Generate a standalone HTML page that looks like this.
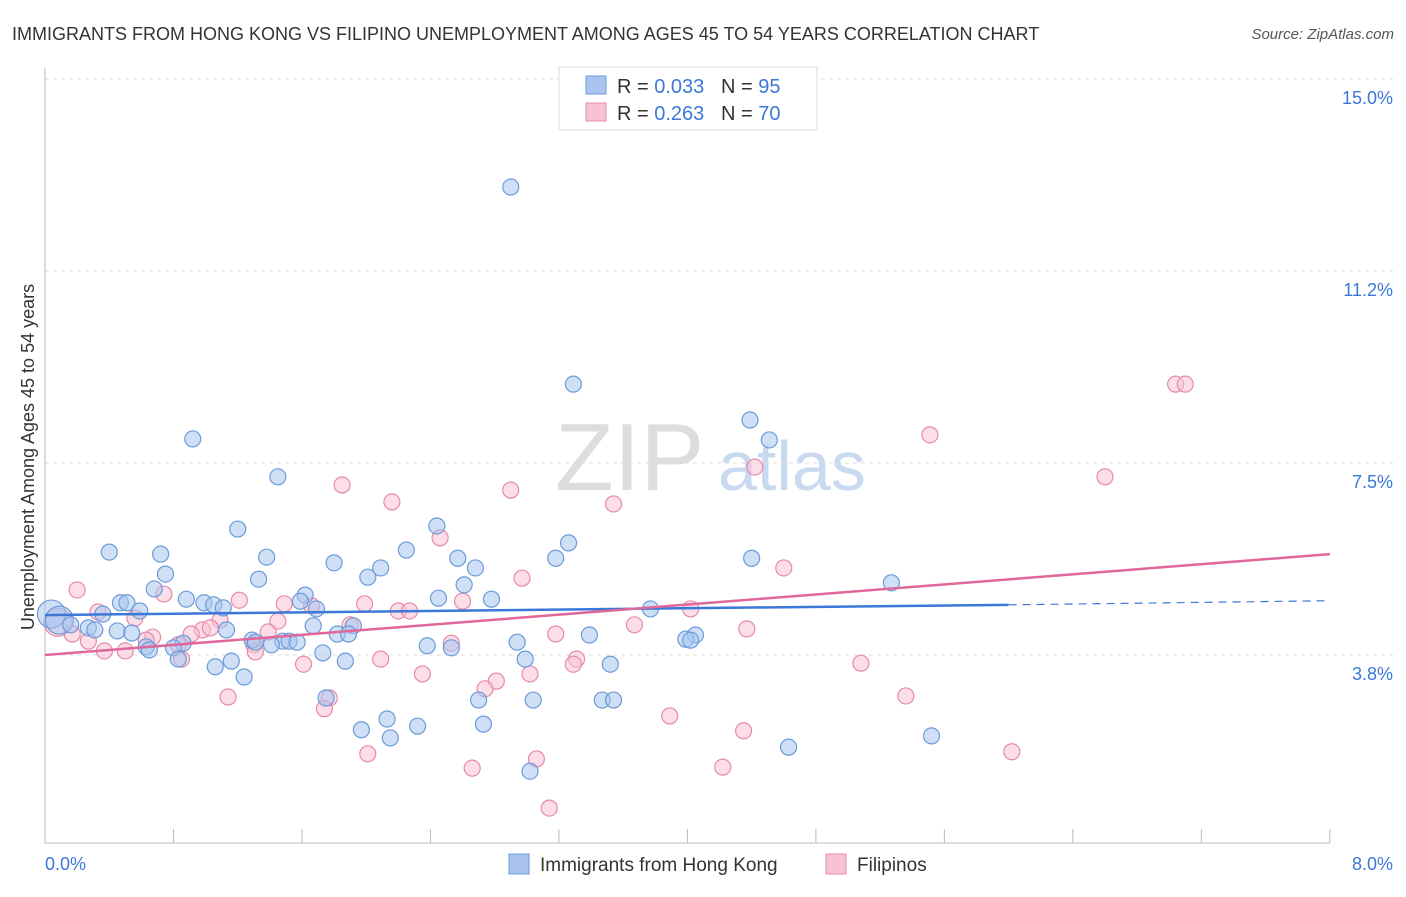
<!DOCTYPE html>
<html><head><meta charset="utf-8"><style>
body{margin:0;background:#fff;font-family:"Liberation Sans",sans-serif;}
svg text{font-family:"Liberation Sans",sans-serif;}
</style></head><body>
<svg id="chart" width="1406" height="892" xmlns="http://www.w3.org/2000/svg">
<text x="12" y="40" font-size="18" fill="#333">IMMIGRANTS FROM HONG KONG VS FILIPINO UNEMPLOYMENT AMONG AGES 45 TO 54 YEARS CORRELATION CHART</text>
<text x="1394" y="39" font-size="15" fill="#555" text-anchor="end" font-style="italic">Source: ZipAtlas.com</text>
<text x="555" y="490" font-size="96" fill="#ddd" font-family="Liberation Serif">ZIP</text>
<text x="718" y="490" font-size="70" fill="#c9d9f0">atlas</text>
<text transform="translate(34,457) rotate(-90)" font-size="18" fill="#333" text-anchor="middle">Unemployment Among Ages 45 to 54 years</text>
<g id="grid"></g><g id="pts"></g><g id="lines"></g>
<g>
<rect x="559" y="67" width="258" height="63" fill="#fff" stroke="#ddd"/>
<rect x="586" y="76" width="20" height="18" fill="#a8c4ee" stroke="#6b9bd9"/>
<rect x="586" y="103" width="20" height="18" fill="#f8c2d3" stroke="#e889a8"/>
<text x="617" y="93" font-size="20" fill="#333">R = <tspan fill="#3b78d8">0.033</tspan>&#160;&#160;&#160;N = <tspan fill="#3b78d8">95</tspan></text>
<text x="617" y="120" font-size="20" fill="#333">R = <tspan fill="#3b78d8">0.263</tspan>&#160;&#160;&#160;N = <tspan fill="#3b78d8">70</tspan></text>
</g>
<g>
<rect x="509" y="854" width="20" height="20" fill="#a8c4ee" stroke="#6b9bd9"/>
<text x="540" y="871" font-size="19" fill="#333">Immigrants from Hong Kong</text>
<rect x="826" y="854" width="20" height="20" fill="#f8c2d3" stroke="#e889a8"/>
<text x="857" y="871" font-size="19" fill="#333">Filipinos</text>
</g>
</svg>
<script>
const yTicks=[15.0,11.25,7.5,3.75];
const yTickLabels=["15.0%","11.2%","7.5%","3.8%"];
const xTicks=[0,0.8,1.6,2.4,3.2,4.0,4.8,5.6,6.4,7.2,8.0];
const blueX=[2.90,3.29,4.39,4.51,0.92,1.45,1.20,2.44,3.26,0.40,0.72,1.38,2.25,2.57,3.18,4.40,1.80,2.09,2.68,0.75,2.01,1.33,2.61,5.27,0.68,0.88,1.62,1.59,2.45,2.78,0.47,0.51,0.99,1.05,1.11,1.69,3.77,0.59,0.36,0.04,0.09,0.16,0.27,0.31,0.45,0.54,1.13,1.67,1.92,1.82,1.89,3.39,4.05,3.99,4.02,2.94,1.29,1.31,1.48,1.52,1.57,1.41,0.86,2.38,2.53,0.63,0.65,0.80,1.73,0.83,1.16,1.87,2.99,1.06,3.52,1.24,1.75,2.70,3.04,3.47,3.54,2.13,2.73,2.32,1.97,2.15,5.52,4.63,3.02];
const blueY=[12.89,9.04,8.34,7.95,7.97,7.23,6.21,6.27,5.94,5.76,5.72,5.66,5.80,5.64,5.64,5.64,5.55,5.45,5.45,5.33,5.27,5.23,5.12,5.16,5.04,4.84,4.92,4.80,4.86,4.84,4.77,4.77,4.77,4.73,4.67,4.65,4.65,4.61,4.55,4.55,4.43,4.34,4.28,4.24,4.22,4.18,4.24,4.32,4.32,4.16,4.16,4.14,4.14,4.06,4.04,4.00,4.04,4.00,4.02,4.02,4.00,3.95,3.98,3.93,3.89,3.91,3.85,3.89,3.79,3.67,3.63,3.63,3.67,3.52,3.57,3.32,2.91,2.87,2.87,2.87,2.87,2.50,2.40,2.36,2.29,2.13,2.17,1.95,1.48];
const pinkX=[7.04,7.10,5.51,4.42,6.60,1.85,2.90,2.16,3.54,2.46,4.60,2.97,0.20,0.74,1.21,1.49,1.66,2.60,1.99,2.20,2.27,4.02,0.33,0.56,0.08,1.09,1.45,3.67,1.90,0.98,1.03,1.39,4.37,0.17,0.91,0.67,0.63,3.18,0.27,1.30,2.53,0.83,0.37,0.50,1.31,0.85,2.09,3.31,3.29,1.61,5.08,3.02,2.35,2.81,2.74,1.14,1.77,5.36,1.74,3.89,4.35,2.01,6.02,3.06,2.66,4.22,3.14];
const pinkY=[9.04,9.04,8.05,7.42,7.23,7.07,6.97,6.74,6.70,6.04,5.45,5.25,5.02,4.94,4.82,4.75,4.71,4.80,4.75,4.61,4.61,4.65,4.59,4.47,4.39,4.43,4.41,4.34,4.34,4.24,4.28,4.20,4.26,4.16,4.16,4.10,4.04,4.16,4.02,3.95,3.98,3.95,3.83,3.83,3.81,3.67,3.67,3.67,3.57,3.57,3.59,3.38,3.38,3.24,3.09,2.93,2.91,2.95,2.70,2.56,2.27,1.82,1.86,1.72,1.54,1.56,0.76];
const blueTrend=[[0,4.53],[6.0,4.73],[8.0,4.81]];
const pinkTrend=[[0,3.75],[8.0,5.72]];
const X=v=>45+v*160.6, Y=v=>79+(15-v)*51.2;
const NS="http://www.w3.org/2000/svg";
function mk(t,a,p){const e=document.createElementNS(NS,t);for(const k in a)e.setAttribute(k,a[k]);p.appendChild(e);return e;}
const grid=document.getElementById('grid');
yTicks.forEach((v,i)=>{
 const l=mk('line',{x1:45,x2:1393,y1:Y(v),y2:Y(v),stroke:'#ddd','stroke-dasharray':'4,4'},grid);
 
 
 const t=mk('text',{x:1393,y:Y(v)+25,'font-size':18,fill:'#3b78d8','text-anchor':'end'},grid);
 t.textContent=yTickLabels[i];
 
 
});
const ax=mk('line',{x1:45,x2:1330,y1:843,y2:843,stroke:'#bbb'},grid);


const ay=mk('line',{x1:45,x2:45,y1:68,y2:843,stroke:'#bbb'},grid);


xTicks.forEach(v=>{const t=mk('line',{x1:X(v),x2:X(v),y1:829,y2:843,stroke:'#bbb'},grid);
 
 });
const xl0=mk('text',{x:45,y:870,'font-size':18,fill:'#3b78d8'},grid);xl0.textContent='0.0%';


const xl1=mk('text',{x:1393,y:870,'font-size':18,fill:'#3b78d8','text-anchor':'end'},grid);xl1.textContent='8.0%';


const pts=document.getElementById('pts');
function draw(xs,ys,fill,stroke,name){xs.forEach((x,i)=>{const r=(x<0.1)?14:8;
 const c=mk('circle',{cx:X(x),cy:Y(ys[i]),r:r,fill:fill,'fill-opacity':0.55,stroke:stroke,'stroke-width':1.2},pts);
 
 });}
draw(pinkX,pinkY,'#f8c2d3','#e889a8','filipino-point');
draw(blueX,blueY,'#a8c4ee','#6b9bd9','hong-kong-point');
const lines=document.getElementById('lines');
const b1=mk('line',{x1:X(blueTrend[0][0]),y1:Y(blueTrend[0][1]),x2:X(blueTrend[1][0]),y2:Y(blueTrend[1][1]),stroke:'#3b78d8','stroke-width':2.5},lines);


const b2=mk('line',{x1:X(blueTrend[1][0]),y1:Y(blueTrend[1][1]),x2:X(blueTrend[2][0]),y2:Y(blueTrend[2][1]),stroke:'#3b78d8','stroke-width':1.2,'stroke-dasharray':'8,6'},lines);


const p1=mk('line',{x1:X(pinkTrend[0][0]),y1:Y(pinkTrend[0][1]),x2:X(pinkTrend[1][0]),y2:Y(pinkTrend[1][1]),stroke:'#e0679a','stroke-width':2.5},lines);


</script>
</body></html>
